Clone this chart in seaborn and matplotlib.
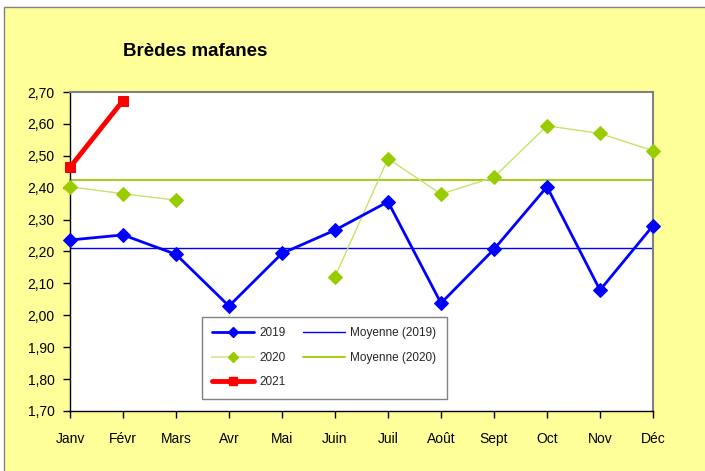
import matplotlib
matplotlib.use("Agg")
import matplotlib.pyplot as plt
from matplotlib.patches import Rectangle
from matplotlib.lines import Line2D
from matplotlib.ticker import FuncFormatter, MultipleLocator
import numpy as np
import pandas as pd
import seaborn as sns

months = ["Janv", "Févr", "Mars", "Avr", "Mai", "Juin", "Juil", "Août", "Sept", "Oct", "Nov", "Déc"]
v2019 = [2.236, 2.252, 2.191, 2.029, 2.194, 2.267, 2.356, 2.038, 2.207, 2.403, 2.079, 2.281]
v2020 = [2.403, 2.381, 2.361, np.nan, np.nan, 2.121, 2.491, 2.380, 2.433, 2.594, 2.570, 2.516]
v2021 = [2.464, 2.673]
mean2019 = 2.210
mean2020 = 2.424

sns.set_theme(style="white")
plt.rcParams["font.family"] = ["Liberation Sans", "DejaVu Sans"]

fig = plt.figure(figsize=(7.05, 4.71), dpi=100)
fig.patch.set_facecolor("white")
fig.patches.append(Rectangle((4 / 705, -0.01), 1.02, (471 - 7) / 471 + 0.01,
                             transform=fig.transFigure, facecolor="#FFFF99",
                             edgecolor="#808080", linewidth=1.0, zorder=-10))

ax = fig.add_axes([70 / 705, 60 / 471, 583 / 705, 319 / 471])
ax.set_facecolor("white")

pos = list(range(len(months)))
df19 = pd.DataFrame({"x": pos, "y": v2019})
seg = [0, 0, 0, 1, 1, 2, 2, 2, 2, 2, 2, 2]
df20 = pd.DataFrame({"x": pos, "y": v2020, "seg": seg}).dropna()
df21 = pd.DataFrame({"x": pos[:len(v2021)], "y": v2021})

blue = "#0000FF"
green = "#99CC00"
red = "#FF0000"

ax.axhline(mean2019, color=blue, lw=1.0, zorder=2)
ax.axhline(mean2020, color=green, lw=1.3, zorder=2)

sns.lineplot(data=df20, x="x", y="y", units="seg", estimator=None, ax=ax,
             color="#C4E36B", lw=1.0, marker="D", markersize=7.5,
             markerfacecolor=green, markeredgecolor=green, zorder=3, legend=False)
sns.lineplot(data=df19, x="x", y="y", ax=ax, color=blue, lw=2.0, marker="D",
             markersize=7, markerfacecolor=blue, markeredgecolor=blue, zorder=4,
             legend=False)
sns.lineplot(data=df21, x="x", y="y", ax=ax, color=red, lw=3.5, marker="s",
             markersize=7, markerfacecolor=red, markeredgecolor=red, zorder=5,
             legend=False)

ax.set_xlim(0, 11)
ax.set_ylim(1.70, 2.70)
ax.set_xticks(pos)
ax.set_xticklabels(months)
ax.yaxis.set_major_locator(MultipleLocator(0.1))
ax.yaxis.set_major_formatter(FuncFormatter(lambda v, p: f"{v:.2f}".replace(".", ",")))
ax.set_xlabel("")
ax.set_ylabel("")
ax.tick_params(axis="both", which="major", direction="out", length=5, width=1,
               color="black", labelsize=10, labelcolor="black", pad=6)
ax.tick_params(axis="x", pad=10)
ax.tick_params(left=True, bottom=True)
for side in ["left", "bottom"]:
    ax.spines[side].set_color("black")
    ax.spines[side].set_linewidth(1.0)
for side in ["top", "right"]:
    ax.spines[side].set_color("#808080")
    ax.spines[side].set_linewidth(1.5)
for ln in ax.lines:
    ln.set_clip_on(False)

fig.text(195 / 705, 1 - 52 / 471, "Brèdes mafanes", ha="center", va="center",
         fontsize=13.5, fontweight="bold", color="black")

handles = [
    Line2D([], [], color=blue, lw=2.0, marker="D", markersize=5),
    Line2D([], [], color="#D6ECA0", lw=1.5, marker="D", markersize=5,
           markerfacecolor=green, markeredgecolor=green),
    Line2D([], [], color=red, lw=3.5, marker="s", markersize=6),
    Line2D([], [], color=blue, lw=1.0),
    Line2D([], [], color=green, lw=1.3),
]
labels = ["2019", "2020", "2021", "Moyenne (2019)", "Moyenne (2020)"]
leg = ax.legend(handles, labels, ncol=2, loc="lower left",
                bbox_to_anchor=(0.226, 0.038, 0.421, 0.266), mode="expand",
                borderaxespad=0.0,
                fontsize=8.5, frameon=True, fancybox=False, handlelength=3.5,
                columnspacing=1.0, borderpad=0.9, labelspacing=1.05,
                handletextpad=0.5)
leg.get_frame().set_edgecolor("#808080")
leg.get_frame().set_linewidth(1.0)
leg.get_frame().set_facecolor("white")
leg.get_frame().set_alpha(1.0)

fig.savefig("out.png", dpi=100)
